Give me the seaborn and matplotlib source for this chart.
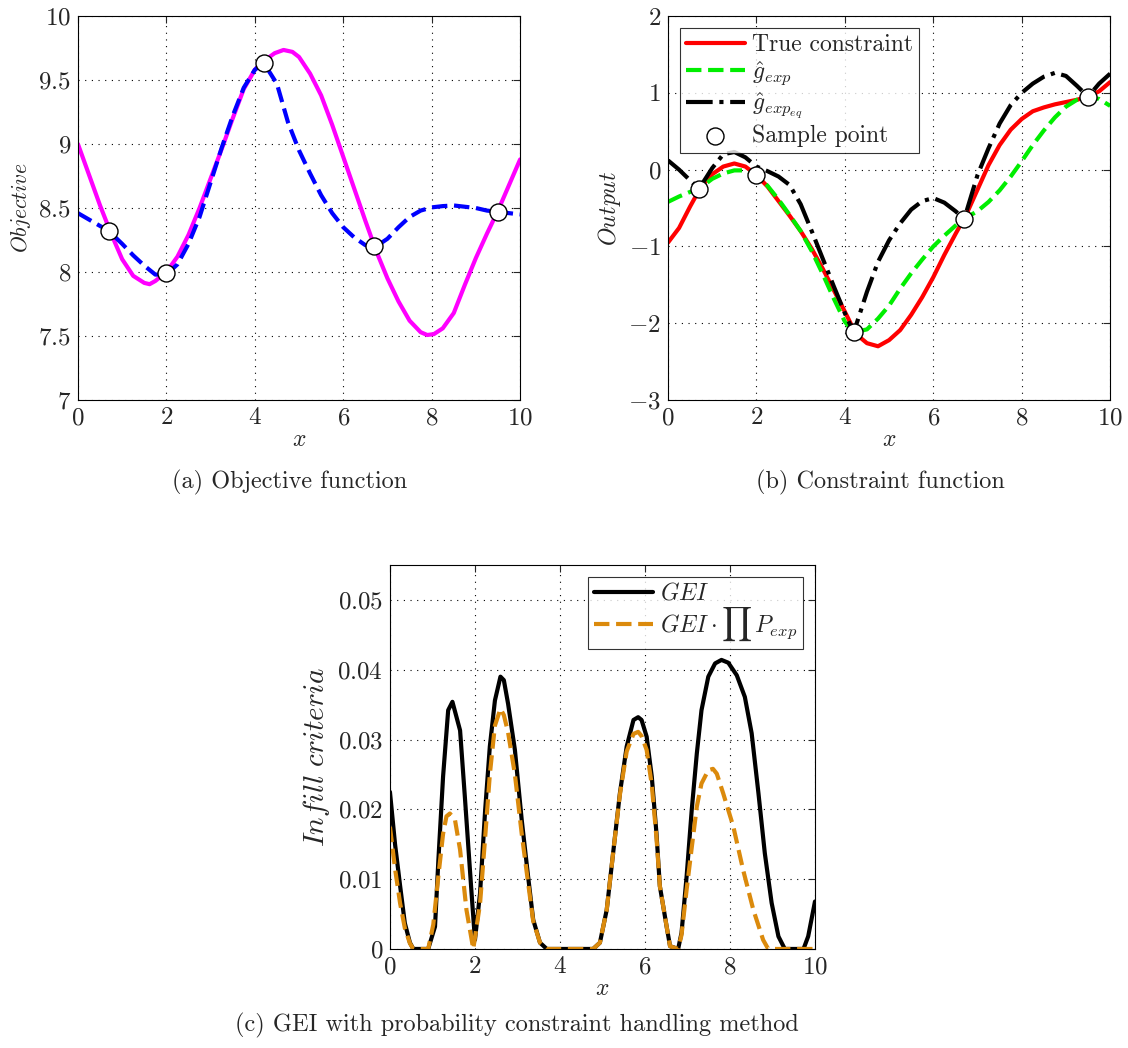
import numpy as np
import pandas as pd
import matplotlib
matplotlib.use('Agg')
import matplotlib.pyplot as plt
import seaborn as sns

# (a) objective function
x_obj = [0, 0.25, 0.5, 0.75, 1.0, 1.25, 1.5, 1.62, 1.75, 2.0, 2.25, 2.5, 2.75, 3.0, 3.25, 3.5,
         3.75, 4.0, 4.25, 4.45, 4.65, 4.85, 5.0, 5.25, 5.5, 5.75, 6.0, 6.25, 6.5, 6.75, 7.0, 7.25,
         7.5, 7.75, 7.9, 8.05, 8.25, 8.5, 8.75, 9.0, 9.25, 9.5, 9.75, 10.0]
y_obj_true = [9.00, 8.76, 8.52, 8.30, 8.10, 7.97, 7.915, 7.905, 7.93, 8.00, 8.12, 8.29, 8.50,
              8.73, 8.96, 9.20, 9.43, 9.58, 9.66, 9.71, 9.735, 9.72, 9.68, 9.55, 9.38, 9.15,
              8.90, 8.65, 8.40, 8.16, 7.95, 7.77, 7.62, 7.53, 7.508, 7.515, 7.56, 7.68, 7.90,
              8.11, 8.30, 8.48, 8.68, 8.88]

x_obj_pred = [0, 0.35, 0.7, 1.0, 1.25, 1.5, 1.75, 2.0, 2.25, 2.5, 2.75, 3.0, 3.25, 3.5, 3.75, 4.0,
              4.2, 4.5, 4.75, 5.0, 5.25, 5.5, 5.75, 6.0, 6.25, 6.5, 6.7, 7.0, 7.25, 7.5, 7.75,
              8.0, 8.25, 8.5, 8.75, 9.0, 9.25, 9.5, 9.75, 10.0]
y_obj_pred = [8.46, 8.39, 8.32, 8.22, 8.13, 8.05, 7.98, 7.98, 8.06, 8.22, 8.43, 8.70, 8.97, 9.22,
              9.44, 9.58, 9.635, 9.47, 9.17, 8.95, 8.77, 8.60, 8.46, 8.35, 8.27, 8.21, 8.19, 8.26,
              8.35, 8.43, 8.48, 8.505, 8.515, 8.52, 8.51, 8.50, 8.48, 8.47, 8.46, 8.45]

x_samples = [0.7, 2.0, 4.2, 6.7, 9.5]
y_obj_samples = [8.32, 7.99, 9.635, 8.20, 8.47]

# (b) constraint function
x_con = [0, 0.25, 0.5, 0.75, 1.0, 1.25, 1.5, 1.75, 2.0, 2.25, 2.5, 2.75, 3.0, 3.25, 3.5, 3.75,
         4.0, 4.25, 4.5, 4.75, 5.0, 5.25, 5.5, 5.75, 6.0, 6.25, 6.5, 6.75, 7.0, 7.25, 7.5, 7.75,
         8.0, 8.25, 8.5, 8.75, 9.0, 9.25, 9.5, 9.75, 10.0]
y_con_true = [-0.95, -0.76, -0.48, -0.22, -0.06, 0.04, 0.08, 0.04, -0.07, -0.22, -0.41, -0.60,
              -0.80, -1.03, -1.29, -1.57, -1.85, -2.14, -2.26, -2.30, -2.22, -2.09, -1.89, -1.66,
              -1.40, -1.11, -0.84, -0.58, -0.26, 0.06, 0.32, 0.52, 0.66, 0.76, 0.81, 0.85, 0.88,
              0.91, 0.95, 1.02, 1.14]

x_con_pred = [0, 0.25, 0.5, 0.7, 1.0, 1.25, 1.5, 1.75, 2.0, 2.25, 2.5, 2.75, 3.0, 3.25, 3.5, 3.75,
              4.0, 4.2, 4.5, 4.75, 5.0, 5.25, 5.5, 5.75, 6.0, 6.25, 6.5, 6.7, 7.0, 7.25, 7.5, 7.75,
              8.0, 8.25, 8.5, 8.75, 9.0, 9.25, 9.5, 9.75, 10.0]
y_gexp = [-0.42, -0.35, -0.29, -0.25, -0.12, -0.05, -0.01, -0.01, -0.07, -0.21, -0.39, -0.59,
          -0.80, -1.06, -1.36, -1.68, -1.98, -2.12, -2.08, -1.94, -1.77, -1.55, -1.35, -1.17,
          -1.00, -0.86, -0.73, -0.64, -0.54, -0.42, -0.27, -0.09, 0.11, 0.32, 0.51, 0.68, 0.82,
          0.91, 0.95, 0.92, 0.83]
y_gexp_eq = [0.12, 0.00, -0.14, -0.25, 0.02, 0.20, 0.23, 0.16, 0.04, -0.02, -0.09, -0.20, -0.45,
             -0.80, -1.16, -1.52, -1.87, -2.12, -1.59, -1.20, -0.92, -0.70, -0.52, -0.41, -0.37,
             -0.43, -0.54, -0.64, -0.07, 0.28, 0.60, 0.84, 1.00, 1.12, 1.21, 1.26, 1.22, 1.09,
             0.95, 1.12, 1.25]
y_con_samples = [-0.25, -0.07, -2.12, -0.64, 0.95]

# (c) infill criteria
x_gei = [0, 0.12, 0.24, 0.35, 0.47, 0.55, 0.9, 1.06, 1.14, 1.25, 1.37, 1.47, 1.65, 1.76, 1.92,
         2.0, 2.12, 2.24, 2.35, 2.47, 2.6, 2.68, 2.78, 2.94, 3.1, 3.25, 3.37, 3.53, 3.69, 4.78,
         4.94, 5.1, 5.25, 5.41, 5.57, 5.73, 5.84, 5.92, 6.04, 6.16, 6.27, 6.35, 6.51, 6.59, 6.78,
         6.86, 6.98, 7.1, 7.22, 7.33, 7.49, 7.65, 7.8, 7.96, 8.16, 8.35, 8.51, 8.67, 8.82, 8.98,
         9.14, 9.29, 9.73, 9.84, 10.0]
y_gei = [0.0225, 0.015, 0.009, 0.0037, 0.0009, 0.0, 0.0, 0.0032, 0.0128, 0.0247, 0.0342, 0.0354,
         0.0313, 0.022, 0.008, 0.0013, 0.008, 0.0199, 0.029, 0.0356, 0.039, 0.0385, 0.0351,
         0.0285, 0.0185, 0.0104, 0.0042, 0.0009, 0.0, 0.0, 0.0009, 0.0056, 0.0137, 0.0223,
         0.029, 0.0328, 0.0332, 0.0328, 0.0304, 0.0247, 0.0166, 0.009, 0.0032, 0.0004, 0.0,
         0.0023, 0.0104, 0.0199, 0.028, 0.0342, 0.039, 0.0409, 0.0414, 0.041, 0.0392, 0.0361,
         0.0309, 0.0223, 0.0137, 0.0066, 0.0018, 0.0, 0.0, 0.0018, 0.0068]

x_geip = [0, 0.12, 0.24, 0.35, 0.47, 0.55, 0.9, 1.02, 1.14, 1.25, 1.33, 1.41, 1.53, 1.65, 1.8,
          1.96, 2.12, 2.24, 2.35, 2.47, 2.6, 2.68, 2.78, 2.94, 3.1, 3.25, 3.37, 3.53, 3.69, 4.78,
          4.94, 5.1, 5.25, 5.41, 5.57, 5.73, 5.84, 5.92, 6.04, 6.16, 6.27, 6.35, 6.51, 6.59, 6.78,
          6.86, 6.98, 7.1, 7.22, 7.33, 7.49, 7.6, 7.69, 7.84, 8.08, 8.31, 8.55, 8.78, 8.9, 10.0]
y_geip = [0.0175, 0.0115, 0.0065, 0.003, 0.0008, 0.0, 0.0, 0.0035, 0.0105, 0.0165, 0.019, 0.0194,
          0.0185, 0.0142, 0.0056, 0.0, 0.0065, 0.016, 0.025, 0.032, 0.0344, 0.0335, 0.031, 0.025,
          0.0165, 0.0095, 0.004, 0.0009, 0.0, 0.0, 0.0009, 0.0056, 0.0137, 0.0221, 0.0283,
          0.0308, 0.0311, 0.0305, 0.0285, 0.0235, 0.016, 0.009, 0.0032, 0.0004, 0.0, 0.002,
          0.0085, 0.0145, 0.0204, 0.0237, 0.0256, 0.0258, 0.0251, 0.0223, 0.0175, 0.0113,
          0.0056, 0.0013, 0.0, 0.0]

sns.set_style('white')
plt.rcParams['font.family'] = 'serif'
plt.rcParams['font.serif'] = ['cmr10', 'DejaVu Serif']
plt.rcParams['mathtext.fontset'] = 'cm'
plt.rcParams['axes.formatter.use_mathtext'] = True
plt.rcParams['font.size'] = 14

fig = plt.figure(figsize=(11.28, 10.48), dpi=100)
ax_a = fig.add_axes([0.0691, 0.6183, 0.392, 0.3664])
ax_b = fig.add_axes([0.5922, 0.6183, 0.392, 0.3664])
ax_c = fig.add_axes([0.3457, 0.0945, 0.3768, 0.3664])


def style_axes(ax, yticks, ylabels):
    ax.set_xlim(0, 10)
    ax.set_xticks([0, 2, 4, 6, 8, 10])
    ax.set_xticklabels(['$0$', '$2$', '$4$', '$6$', '$8$', '$10$'])
    ax.set_yticks(yticks)
    ax.set_yticklabels(ylabels)
    ax.grid(True, color='k', linestyle=(0, (1, 5)), linewidth=0.8)
    ax.tick_params(direction='in', top=True, right=True, length=5, width=0.8,
                   labelsize=18, pad=5)
    for s in ax.spines.values():
        s.set_color('k')
        s.set_linewidth(0.8)
    ax.set_xlabel('$x$', fontsize=17, labelpad=0)


# panel (a)
sns.lineplot(x=x_obj, y=y_obj_true, ax=ax_a, color='#FF00FF', linewidth=3)
sns.lineplot(x=x_obj_pred, y=y_obj_pred, ax=ax_a, color='#0000FF', linewidth=3,
             linestyle='--')
sns.scatterplot(x=x_samples, y=y_obj_samples, ax=ax_a, s=150, color='white',
                edgecolor='k', linewidth=1, zorder=5)
style_axes(ax_a, [7, 7.5, 8, 8.5, 9, 9.5, 10],
           ['$7$', '$7.5$', '$8$', '$8.5$', '$9$', '$9.5$', '$10$'])
ax_a.set_ylim(7, 10)
ax_a.set_ylabel('$Objective$', fontsize=15.5, labelpad=4)

# panel (b)
sns.lineplot(x=x_con, y=y_con_true, ax=ax_b, color='#FF0000', linewidth=3,
             label='True constraint')
sns.lineplot(x=x_con_pred, y=y_gexp, ax=ax_b, color='#00EE00', linewidth=3,
             linestyle='--', label=r'$\hat{g}_{exp}$')
sns.lineplot(x=x_con_pred, y=y_gexp_eq, ax=ax_b, color='k', linewidth=3,
             linestyle='-.', label=r'$\hat{g}_{exp_{eq}}$')
sns.scatterplot(x=x_samples, y=y_con_samples, ax=ax_b, s=150, color='white',
                edgecolor='k', linewidth=1, zorder=5, label='Sample point')
style_axes(ax_b, [-3, -2, -1, 0, 1, 2],
           ['$-3$', '$-2$', '$-1$', '$0$', '$1$', '$2$'])
ax_b.set_ylim(-3, 2)
ax_b.set_ylabel('$Output$', fontsize=17, labelpad=4)
leg = ax_b.legend(loc='upper left', fontsize=17, frameon=True, fancybox=False,
                  edgecolor='k', handlelength=2.5, borderpad=0.25, labelspacing=0.15,
                  handletextpad=0.3, borderaxespad=0.5)
leg.get_frame().set_linewidth(0.8)

# panel (c)
sns.lineplot(x=x_gei, y=y_gei, ax=ax_c, color='k', linewidth=3, label='$GEI$')
sns.lineplot(x=x_geip, y=y_geip, ax=ax_c, color='#DB8A0C', linewidth=3, linestyle='--',
             label=r'$GEI\cdot\prod\, P_{exp}$')
style_axes(ax_c, [0, 0.01, 0.02, 0.03, 0.04, 0.05],
           ['$0$', '$0.01$', '$0.02$', '$0.03$', '$0.04$', '$0.05$'])
ax_c.set_ylim(0, 0.055)
ax_c.set_ylabel(r'$Infill\ criteria$', fontsize=21, labelpad=4)
leg = ax_c.legend(loc='upper right', fontsize=17, frameon=True, fancybox=False,
                  edgecolor='k', handlelength=2.5, borderpad=0.25, labelspacing=0.05,
                  handletextpad=0.3, borderaxespad=0.5)
leg.get_frame().set_linewidth(0.8)

fig.text(0.2571, 1 - 482 / 1048, '(a) Objective function', ha='center', va='center',
         fontsize=17.5)
fig.text(0.7801, 1 - 482 / 1048, '(b) Constraint function', ha='center', va='center',
         fontsize=17.5)
fig.text(0.4584, 1 - 1025 / 1048, '(c) GEI with probability constraint handling method',
         ha='center', va='center', fontsize=17.5)

fig.savefig('out.png', dpi=100)
plt.close(fig)
